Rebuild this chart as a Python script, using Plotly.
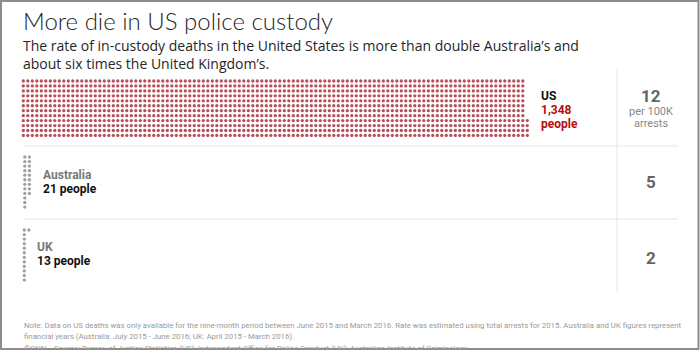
import plotly.graph_objects as go

# Deaths in police custody and rate per 100K arrests
countries = ["US", "Australia", "UK"]
deaths = [1348, 21, 13]
rate_per_100k = [12, 5, 2]
death_labels = ["1,348 people", "21 people", "13 people"]

DOTS_PER_COLUMN = 12
W, H = 700, 350

# Layout of each dot block (left, top, column step, row step, fill from bottom)
blocks = {
    "US": dict(x0=23.3, y0=81, dx=4.5, dy=4.95, bottom_up=True, color="#b8505b"),
    "Australia": dict(x0=24.8, y0=157, dx=4.6, dy=4.55, bottom_up=False, color="#a0a0a0"),
    "UK": dict(x0=24.3, y0=230, dx=4.6, dy=4.55, bottom_up=False, color="#a0a0a0"),
}

fig = go.Figure()

for name, n in zip(countries, deaths):
    b = blocks[name]
    xs, ys = [], []
    for i in range(n):
        col, row = divmod(i, DOTS_PER_COLUMN)
        if b["bottom_up"]:
            row = DOTS_PER_COLUMN - 1 - row
        xs.append(b["x0"] + col * b["dx"])
        ys.append(b["y0"] + row * b["dy"])
    fig.add_trace(go.Scatter(
        x=xs, y=ys, mode="markers",
        marker=dict(size=3.3, color=b["color"], line=dict(width=0)),
        hoverinfo="skip", showlegend=False,
    ))

GRID = "#e6e6e6"
shapes = [
    dict(type="line", x0=23, x1=678, y0=146, y1=146, line=dict(color=GRID, width=1)),
    dict(type="line", x0=23, x1=678, y0=219, y1=219, line=dict(color=GRID, width=1)),
    dict(type="line", x0=617, x1=617, y0=68, y1=293, line=dict(color=GRID, width=1)),
    dict(type="rect", x0=1, x1=698.5, y0=1, y1=349, line=dict(color="#8c8c8c", width=2)),
]
for s in shapes:
    s.update(xref="x", yref="y", layer="above")

SANS = "Roboto, Lato, sans-serif"
ann = []


def text(x, y, t, size, color, weight=400, xanchor="left", family=SANS, align="left"):
    ann.append(dict(x=x, y=y, xref="x", yref="y", text=t, showarrow=False,
                    xanchor=xanchor, yanchor="middle", align=align,
                    font=dict(size=size, color=color, family=family, weight=weight)))


text(21, 20, "More die in US police custody", 24, "#262626", weight=300, family="Lato, Roboto, sans-serif")
SUB = "'Open Sans', Roboto, sans-serif"
text(21, 54, "The rate of in-custody deaths in the United States is more than double Australia\u2019s and"
     "<br>about six times the United Kingdom\u2019s.", 14, "#262626", family=SUB)

# US label
us_num, us_word = death_labels[0].split(" ")
text(539, 96, countries[0], 12, "#111111", weight=700)
text(539, 110, us_num, 12, "#b50e0e", weight=700)
text(539, 124, us_word, 12, "#b50e0e", weight=700)

# Australia and UK labels
text(41, 175, countries[1], 12, "#777777", weight=700)
text(41, 188.5, death_labels[1], 12, "#111111", weight=700)
text(35, 247, countries[2], 12, "#777777", weight=700)
text(35, 261, death_labels[2], 12, "#111111", weight=700)

# Rates
rate_y = [96, 182, 258]
for r, y in zip(rate_per_100k, rate_y):
    text(651, y, str(r), 17, "#666666", weight=700, xanchor="center")
text(651, 111, "per 100K", 11, "#888888", xanchor="center")
text(651, 123, "arrests", 11, "#888888", xanchor="center")

NOTE = "Roboto, sans-serif"
text(22, 325, "Note: Data on US deaths was only available for the nine-month period between June 2015 and March 2016. "
     "Rate was estimated using total arrests for 2015. Australia and UK figures represent", 7.8, "#9a9a9a", family=NOTE)
text(22, 336, "financial years (Australia: July 2015 - June 2016; UK: April 2015 - March 2016).", 7.8, "#9a9a9a", family=NOTE)
text(22, 348, "\u00a9CNN    Source: Bureau of Justice Statistics (US); Independent Office for Police Conduct (UK); "
     "Australian Institute of Criminology", 7.8, "#9a9a9a", family=NOTE)

fig.update_layout(
    width=W, height=H,
    margin=dict(l=0, r=0, t=0, b=0),
    paper_bgcolor="white", plot_bgcolor="white",
    xaxis=dict(range=[0, W], visible=False, fixedrange=True),
    yaxis=dict(range=[H, 0], visible=False, fixedrange=True),
    shapes=shapes, annotations=ann,
)

fig.write_html("out.html")
